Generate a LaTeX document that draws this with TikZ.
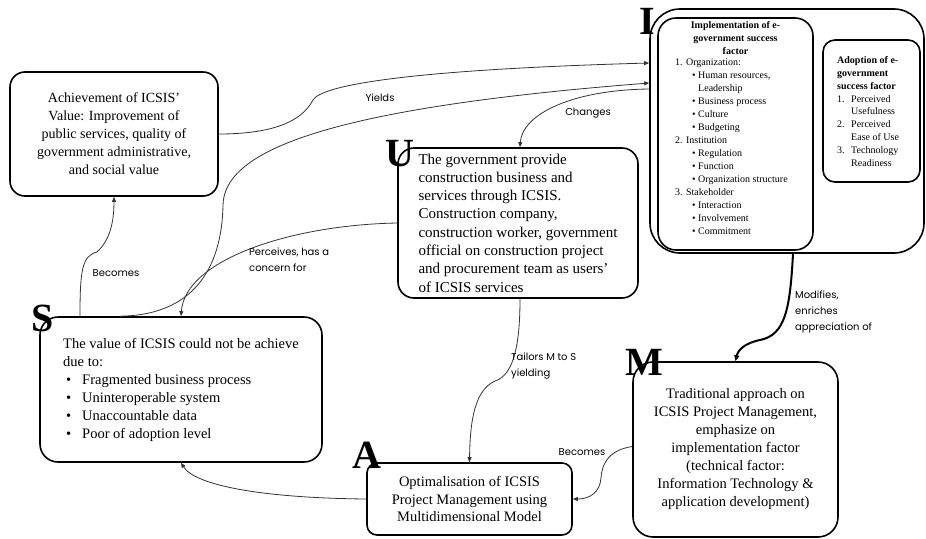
\documentclass[tikz,border=0pt]{standalone}
\usepackage{fontspec}
\setmainfont{Liberation Serif}
\newfontfamily\handfont{Poppins}
\usetikzlibrary{arrows.meta}

\begin{document}
\begin{tikzpicture}[x=1pt,y=-1pt,
  box/.style={draw, line width=1.6pt, rounded corners=#1, inner sep=0pt},
  box/.default=15pt,
  bigletter/.style={font=\fontsize{40}{40}\selectfont\bfseries, inner sep=0pt},
  conn/.style={draw=black!80, line width=0.8pt, -{Triangle[length=5pt,width=4pt]}},
  strong/.style={draw=black, line width=2pt, -{Triangle[length=6pt,width=5pt]}},
  hand/.style={font=\handfont\fontsize{10}{16}\selectfont, inner sep=0pt, align=left, text=black},
  small/.style={font=\fontsize{10}{13}\selectfont, inner sep=0pt, align=left}
]
\useasboundingbox (0,0) rectangle (926,538);

% ---------- boxes ----------
\node[box=15pt, minimum width=208pt, minimum height=124pt, align=center,
      font=\fontsize{14}{18}\selectfont] (V) at (114,134)
  {Achievement of ICSIS’\\Value: Improvement of\\public services, quality of\\government administrative,\\and social value};

\node[box=16pt, minimum width=240pt, minimum height=150pt, align=left,
      font=\fontsize{15}{18.3}\selectfont] (U) at (518,223)
  {The government provide\\construction business and\\services through ICSIS.\\Construction company,\\construction worker, government\\official on construction project\\and procurement team as users’\\of ICSIS services};

\node[box=18pt, minimum width=282pt, minimum height=145pt, align=left,
      font=\fontsize{14.5}{18}\selectfont] (S) at (181,389.5)
  {The value of ICSIS could not be achieve\\due to:\\
   \hspace*{3pt}\makebox[16pt][l]{\textbullet}Fragmented business process\\
   \hspace*{3pt}\makebox[16pt][l]{\textbullet}Uninteroperable system\\
   \hspace*{3pt}\makebox[16pt][l]{\textbullet}Unaccountable data\\
   \hspace*{3pt}\makebox[16pt][l]{\textbullet}Poor of adoption level};

\node[box=10pt, minimum width=205pt, minimum height=72pt, align=center,
      font=\fontsize{14.5}{17.5}\selectfont] (A) at (469.5,499)
  {Optimalisation of ICSIS\\Project Management using\\Multidimensional Model};

\node[box=20pt, minimum width=205pt, minimum height=175pt, align=center,
      font=\fontsize{14.5}{18}\selectfont] (M) at (735.5,449.5)
  {Traditional approach on\\ICSIS Project Management,\\emphasize on\\implementation factor\\(technical factor:\\Information Technology \&\\application development)};

% success factor group
\node[box=30pt, minimum width=274pt, minimum height=244pt] (L) at (787,131) {};
\node[box=18pt, minimum width=155pt, minimum height=232pt] (impl) at (735.5,134) {};
\node[box=12pt, minimum width=97pt, minimum height=142pt] (adopt) at (871.5,111) {};

\node[small, font=\fontsize{10}{13}\selectfont\bfseries, align=center, anchor=north]
  (implTitle) at (735.5,21.5) {Implementation of e-\\government success\\factor};
\node[small, anchor=north west] (implList) at (675,58.5)
  {1. Organization:\\
   \hspace*{17pt}\makebox[6pt][l]{\textbullet}Human resources,\\
   \hspace*{23pt}Leadership\\
   \hspace*{17pt}\makebox[6pt][l]{\textbullet}Business process\\
   \hspace*{17pt}\makebox[6pt][l]{\textbullet}Culture\\
   \hspace*{17pt}\makebox[6pt][l]{\textbullet}Budgeting\\
   2. Institution\\
   \hspace*{17pt}\makebox[6pt][l]{\textbullet}Regulation\\
   \hspace*{17pt}\makebox[6pt][l]{\textbullet}Function\\
   \hspace*{17pt}\makebox[6pt][l]{\textbullet}Organization structure\\
   3. Stakeholder\\
   \hspace*{17pt}\makebox[6pt][l]{\textbullet}Interaction\\
   \hspace*{17pt}\makebox[6pt][l]{\textbullet}Involvement\\
   \hspace*{17pt}\makebox[6pt][l]{\textbullet}Commitment};

\node[small, font=\fontsize{10}{12.8}\selectfont, anchor=north west] (adoptText) at (837,56.5)
  {\textbf{Adoption of e-}\\\textbf{government}\\\textbf{success factor}\\
   \makebox[14pt][l]{1.}Perceived\\\hspace*{14pt}Usefulness\\
   \makebox[14pt][l]{2.}Perceived\\\hspace*{14pt}Ease of Use\\
   \makebox[14pt][l]{3.}Technology\\\hspace*{14pt}Readiness};

% ---------- big letters ----------
\node[bigletter] (letI) at (647.5,21.5) {I};
\node[bigletter] (letU) at (400,154) {U};
\node[bigletter] (letS) at (43,318.5) {S};
\node[bigletter] (letA) at (366.5,455.5) {A};
\node[bigletter] (letM) at (644.5,362.5) {M};

% ---------- connectors ----------
% V yields the success factors
\draw[conn] (V.east) .. controls (285,134) and (305,115) .. (313,100)
  .. controls (321,86) and (400,70) .. ([yshift=68pt]L.west);
\node[hand] (lYields) at (380,98) {Yields};

% S towards the success factors
\draw[conn] ([xshift=-61pt]S.north) .. controls (200,315) and (222,260) .. (223,205)
  .. controls (224,150) and (330,108) .. ([yshift=48pt]L.west);

% S becomes V
\draw[conn] ([xshift=-101pt]S.north) .. controls (80,270) and (82,256) .. (97,252)
  .. controls (110,240) and (114,222) .. (V.south);
\node[hand] (lBecomes1) at (116,273) {Becomes};

% L changes U
\draw[conn] ([yshift=42pt]L.west) .. controls (570,90) and (522,115) .. ([xshift=2pt]U.north);
\node[hand] (lChanges) at (588,113) {Changes};

% U perceives S
\draw[conn] (U.west) .. controls (290,225) and (185,260) .. (S.north);
\node[hand, anchor=west] (lPerceives) at (249,260) {Perceives, has a\\concern for};

% U tailors towards A
\draw[conn] ([xshift=2pt]U.south) .. controls (520,340) and (515,375) .. (495,381)
  .. controls (475,390) and (470,420) .. (A.north);
\node[hand, anchor=west] (lTailors) at (511,366) {Tailors M to S\\yielding};

% L modifies M
\draw[strong] ([xshift=6pt]L.south) .. controls (790,310) and (785,335) .. (760,340)
  .. controls (745,343) and (738,350) .. (M.north);
\node[hand, anchor=west] (lModifies) at (795,312) {Modifies,\\enriches\\appreciation of};

% M becomes A
\draw[conn] ([yshift=3pt]M.west) .. controls (610,450) and (602,462) .. (601,478)
  .. controls (600,492) and (590,499) .. (A.east);
\node[hand] (lBecomes2) at (582,452) {Becomes};

% A back to S
\draw[conn] (A.west) .. controls (260,498) and (195,485) .. (S.south);

\end{tikzpicture}
\end{document}
